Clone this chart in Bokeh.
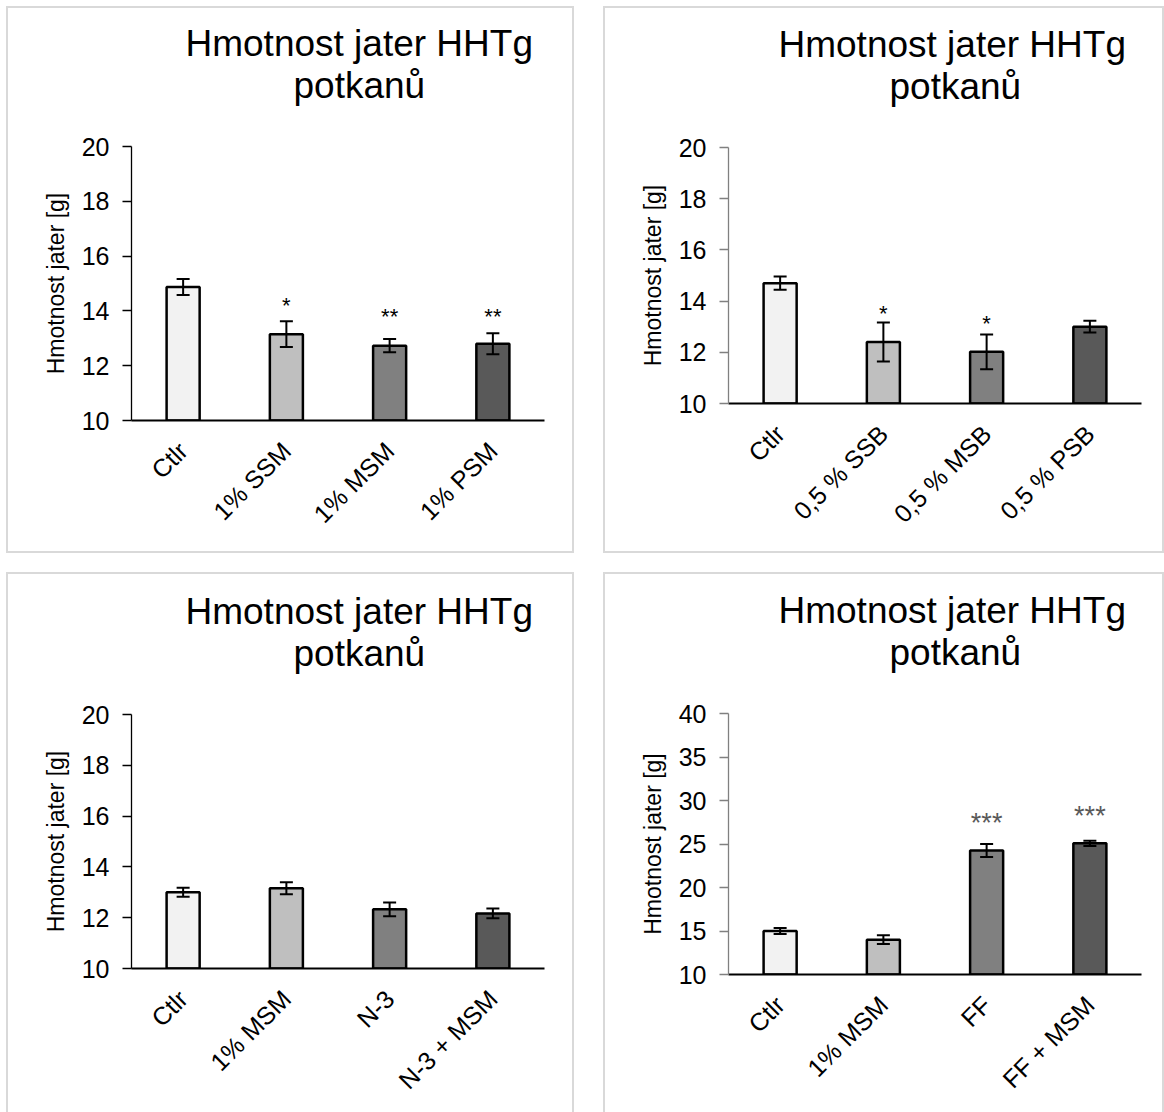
import math
from bokeh.plotting import figure
from bokeh.models import (FactorRange, Range1d, FixedTicker, Whisker, ColumnDataSource,
                          TeeHead, Title)
from bokeh.layouts import row, column
from bokeh.embed import file_html
from bokeh.resources import INLINE

# ---------------- data ----------------
title_line1 = "Hmotnost jater HHTg"
title_line2 = "potkanů"
y_label = "Hmotnost jater [g]"

tl_cats = ["Ctlr", "1% SSM", "1% MSM", "1% PSM"]
tl_mean = [14.87, 13.15, 12.73, 12.80]
tl_err = [0.29, 0.47, 0.24, 0.38]
tl_sig = ["", "*", "**", "**"]
tl_sig_y = [0, 14.18, 13.78, 13.78]

tr_cats = ["Ctlr", "0,5 % SSB", "0,5 % MSB", "0,5 % PSB"]
tr_mean = [14.70, 12.40, 12.02, 13.00]
tr_err = [0.26, 0.76, 0.68, 0.23]
tr_sig = ["", "*", "*", ""]
tr_sig_y = [0, 13.52, 13.13, 0]

bl_cats = ["Ctlr", "1% MSM", "N-3", "N-3 + MSM"]
bl_mean = [13.00, 13.16, 12.33, 12.17]
bl_err = [0.18, 0.24, 0.27, 0.19]
bl_sig = ["", "", "", ""]
bl_sig_y = [0, 0, 0, 0]

br_cats = ["Ctlr", "1% MSM", "FF", "FF + MSM"]
br_mean = [15.00, 14.00, 24.26, 25.08]
br_err = [0.35, 0.50, 0.75, 0.30]
br_sig = ["", "", "***", "***"]
br_sig_y = [0, 0, 27.4, 28.17]

y20_ticks = [10, 12, 14, 16, 18, 20]
y40_ticks = [10, 15, 20, 25, 30, 35, 40]

bar_colors = ["#f2f2f2", "#bfbfbf", "#808080", "#595959"]
FONT = "Liberation Sans"


def make_title(text, offset, standoff):
    return Title(text=text, align="left", offset=offset, standoff=standoff,
                 text_font=FONT, text_font_size="37px", text_font_style="normal",
                 text_color="black")


def panel(cats, mean, err, sig, sig_y, ymin, ymax, ticks, w, h,
          mb_left, mb_right, mb_top, mb_bottom, yaxis_color, star_color, star_size,
          off1, off2):
    p = figure(x_range=FactorRange(factors=cats, range_padding=0),
               y_range=Range1d(ymin, ymax),
               width=w, height=h,
               output_backend="svg", toolbar_location=None,
               min_border_left=mb_left, min_border_right=mb_right,
               min_border_top=mb_top, min_border_bottom=mb_bottom)
    p.title.visible = False
    p.title.text = ""
    p.add_layout(make_title(title_line2, off2, 82), "above")
    p.add_layout(make_title(title_line1, off1, -84), "above")

    src = ColumnDataSource(dict(x=cats, top=mean,
                                upper=[m + e for m, e in zip(mean, err)],
                                lower=[m - e for m, e in zip(mean, err)],
                                color=bar_colors))
    p.vbar(x="x", top="top", bottom=ymin, width=0.32, source=src,
           fill_color="color", line_color="black", line_width=2.5)
    wh = Whisker(base="x", upper="upper", lower="lower", source=src,
                 line_color="black", line_width=2, level="overlay",
                 upper_head=TeeHead(size=13, line_color="black", line_width=2),
                 lower_head=TeeHead(size=13, line_color="black", line_width=2))
    p.add_layout(wh)
    sx = [c for c, s in zip(cats, sig) if s]
    sy = [v for v, s in zip(sig_y, sig) if s]
    st = [s for s in sig if s]
    if sx:
        p.text(x=sx, y=sy, text=st, text_align="center",
               text_baseline="alphabetic", text_font_size=star_size,
               text_color=star_color, text_font={"value": FONT})
    p.xgrid.visible = False
    p.ygrid.visible = False
    p.outline_line_color = None
    p.background_fill_color = "white"

    xa = p.xaxis[0]
    xa.axis_line_color = "black"
    xa.axis_line_width = 2
    xa.major_tick_line_color = None
    xa.minor_tick_line_color = None
    xa.major_label_orientation = math.pi / 4
    xa.major_label_text_font = FONT
    xa.major_label_text_font_size = "25px"
    xa.major_label_text_color = "black"
    xa.major_label_standoff = 20

    ya = p.yaxis[0]
    ya.ticker = FixedTicker(ticks=ticks)
    ya.axis_line_color = yaxis_color
    ya.axis_line_width = 1.3
    ya.major_tick_line_color = yaxis_color
    ya.major_tick_line_width = 1.3
    ya.major_tick_in = 0
    ya.major_tick_out = 9
    ya.minor_tick_line_color = None
    ya.major_label_text_font = FONT
    ya.major_label_text_font_size = "25px"
    ya.major_label_text_color = "black"
    ya.major_label_standoff = 13
    ya.axis_label = y_label
    ya.axis_label_text_font = FONT
    ya.axis_label_text_font_size = "23px"
    ya.axis_label_text_font_style = "normal"
    ya.axis_label_text_color = "black"
    ya.axis_label_standoff = 10
    return p


def boxed(p, w, h, bottom=True):
    st = {"border": "2px solid #d9d9d9", "box-sizing": "border-box",
          "overflow": "hidden", "background-color": "white"}
    if not bottom:
        st["border-bottom"] = "none"
    return column(p, width=w, height=h, sizing_mode="fixed", styles=st)


p1 = panel(tl_cats, tl_mean, tl_err, tl_sig, tl_sig_y, 10, 20, y20_ticks,
           564, 543, 123, 28, 138, 131, "black", "black", "22px", 54, 162)
p2 = panel(tr_cats, tr_mean, tr_err, tr_sig, tr_sig_y, 10, 20, y20_ticks,
           557, 543, 123, 21, 139, 148, "#808080", "black", "22px", 50, 161)
p3 = panel(bl_cats, bl_mean, bl_err, bl_sig, bl_sig_y, 10, 20, y20_ticks,
           564, 538, 123, 28, 140, 144, "black", "black", "22px", 54, 162)
p4 = panel(br_cats, br_mean, br_err, br_sig, br_sig_y, 10, 40, y40_ticks,
           557, 538, 123, 21, 139, 138, "#808080", "#595959", "27px", 50, 161)

layout = column(row(boxed(p1, 568, 547), boxed(p2, 561, 547), spacing=29),
                row(boxed(p3, 568, 540, False), boxed(p4, 561, 540, False), spacing=29),
                spacing=19, margin=(6, 0, 0, 6))

open("out.html", "w").write(file_html(layout, INLINE))
